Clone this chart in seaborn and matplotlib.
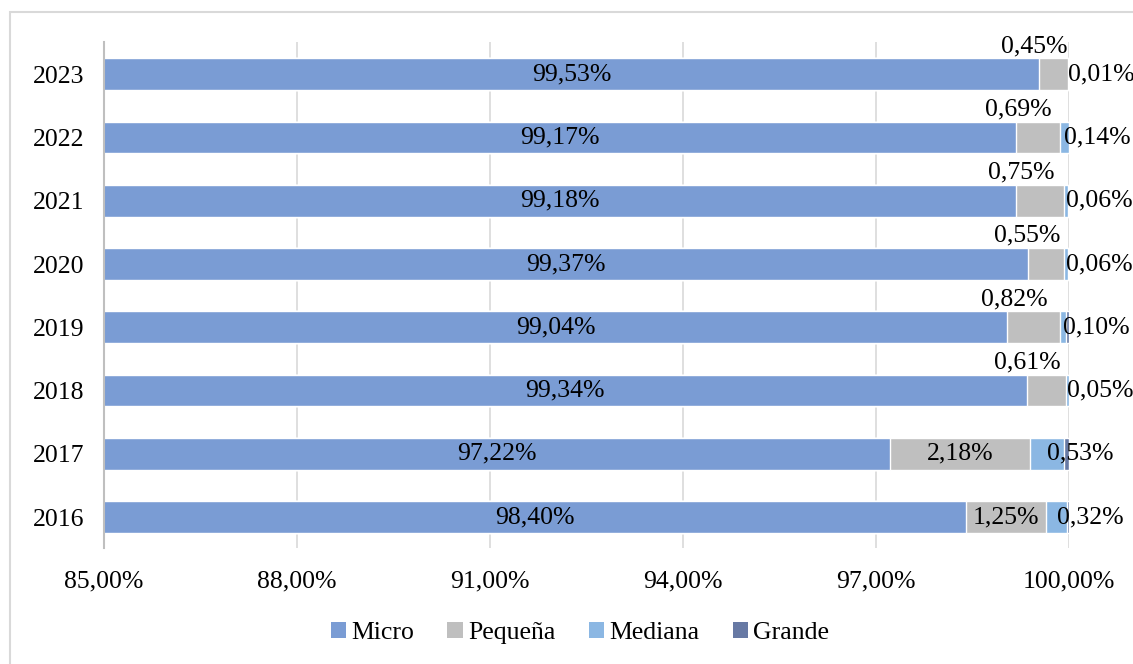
import matplotlib
matplotlib.use("Agg")
import matplotlib.pyplot as plt
from matplotlib.patches import Patch, Rectangle
import seaborn as sns
import pandas as pd
import numpy as np

# data (2016 -> 2023)
years = ["2016", "2017", "2018", "2019", "2020", "2021", "2022", "2023"]
micro = [98.40, 97.22, 99.34, 99.04, 99.37, 99.18, 99.17, 99.53]
pequena = [1.25, 2.18, 0.61, 0.82, 0.55, 0.75, 0.69, 0.45]
mediana = [0.32, 0.53, 0.05, 0.10, 0.06, 0.06, 0.14, 0.01]
grande = [0.03, 0.07, 0.00, 0.04, 0.02, 0.01, 0.00, 0.01]

series = ["Micro", "Pequeña", "Mediana", "Grande"]
colors = ["#7A9CD4", "#BFBFBF", "#8BB7E3", "#6779A4"]

sns.set_style("white")
plt.rcParams["font.family"] = ["Liberation Serif", "DejaVu Serif"]
plt.rcParams["text.color"] = "black"
plt.rcParams["xtick.color"] = "black"
plt.rcParams["ytick.color"] = "black"
fs = 18.5

df = pd.DataFrame({"year": years, "Micro": micro, "Pequeña": pequena,
                   "Mediana": mediana, "Grande": grande})
df["c1"] = df["Micro"]
df["c2"] = df["c1"] + df["Pequeña"]
df["c3"] = df["c2"] + df["Mediana"]
df["c4"] = df["c3"] + df["Grande"]
order = years[::-1]

fig = plt.figure(figsize=(11.33, 6.64), dpi=100)
ax = fig.add_axes([104/1133, 1-548/664, (1069-104)/1133, (548-42)/664])

# stacked bars drawn as overlaid cumulative totals
for col, c in zip(["c4", "c3", "c2", "c1"], colors[::-1]):
    sns.barplot(data=df, x=col, y="year", order=order, orient="h",
                color=c, width=0.5, saturation=1, ax=ax, zorder=3)

ax.set_xlim(85, 100)
ax.set_ylim(7.49, -0.51)
ax.set_xticks(np.arange(85, 100.1, 3))
ax.set_xticklabels([f"{v:.2f}%".replace(".", ",") for v in np.arange(85, 100.1, 3)],
                   fontsize=fs)
ax.set_yticks(range(len(order)))
ax.set_yticklabels(order, fontsize=fs)
ax.tick_params(axis="x", length=0, pad=16, colors="black")
ax.tick_params(axis="y", length=0, pad=14, colors="black")
ax.set_xlabel("")
ax.set_ylabel("")
ax.grid(axis="x", color="#D9D9D9", lw=1.2, zorder=0)
ax.set_axisbelow(True)
for s in ["top", "right", "bottom"]:
    ax.spines[s].set_visible(False)
ax.spines["left"].set_color("#BFBFBF")
ax.spines["left"].set_linewidth(1.5)
ax.spines["left"].set_zorder(5)

def fmt(v):
    return f"{v:.2f}%".replace(".", ",")

for _, r in df.iterrows():
    y = order.index(r["year"])
    ax.text((85 + r["c1"]) / 2, y, fmt(r["Micro"]), ha="center", va="center",
            fontsize=fs, color="black", zorder=6)
    xp = (r["c1"] + r["c2"]) / 2
    if r["Pequeña"] > 1:
        ax.text(xp, y, fmt(r["Pequeña"]), ha="center", va="center",
                fontsize=fs, color="black", zorder=6)
    else:
        ax.text(xp - 0.3, y - 0.27, fmt(r["Pequeña"]), ha="center",
                va="bottom", fontsize=fs, color="black", zorder=6)
    ax.text((r["c2"] + r["c3"]) / 2, y, fmt(r["Mediana"]), ha="left",
            va="center", fontsize=fs, color="black", zorder=6)

handles = [Patch(facecolor=c, edgecolor="none") for c in colors]
fig.legend(handles, series, loc="center", bbox_to_anchor=(580/1133, 1-633/664),
           ncol=4, frameon=False, fontsize=fs, handlelength=0.6,
           handleheight=0.6, handletextpad=0.2, columnspacing=1.3,
           labelcolor="black")

# outer chart border
fig.patches.append(Rectangle((10/1133, -0.1), 1.2, 1-12/664+0.1,
                             transform=fig.transFigure, fill=False,
                             edgecolor="#D9D9D9", lw=1.5))

fig.savefig("out.png", dpi=100)
